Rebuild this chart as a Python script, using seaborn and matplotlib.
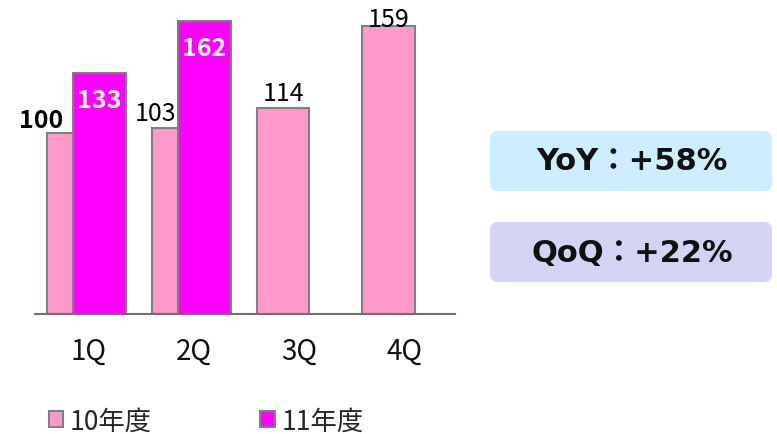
import numpy as np
import pandas as pd
import matplotlib.pyplot as plt
import seaborn as sns
from matplotlib.patches import FancyBboxPatch

# data
quarters = ['1Q', '2Q', '3Q', '4Q']
fy10 = [100, 103, 114, 159]
fy11 = [133, 162]
series_names = ['10年度', '11年度']
yoy_text = 'YoY：+58%'
qoq_text = 'QoQ：+22%'

sns.set_theme(style='white')
plt.rcParams['font.family'] = ['Noto Sans CJK JP', 'DejaVu Sans']

pink = '#FF99CC'
magenta = '#FF00FF'
edge = '#808080'

fig = plt.figure(figsize=(7.77, 4.35), dpi=100)
ax = fig.add_axes([0.045, 0.276, 0.541, 0.724])

pos10 = np.arange(len(fy10), dtype=float)
pos11 = np.arange(len(fy11), dtype=float) + 0.25
df10 = pd.DataFrame({'x': pos10, 'y': fy10})
df11 = pd.DataFrame({'x': pos11, 'y': fy11})

sns.barplot(data=df10, x='x', y='y', native_scale=True, width=0.5, color=pink,
            saturation=1, edgecolor=edge, linewidth=1.5, ax=ax)
sns.barplot(data=df11, x='x', y='y', native_scale=True, width=0.5, color=magenta,
            saturation=1, edgecolor=edge, linewidth=1.5, ax=ax)

ax.set_xlim(-0.362, 3.638)
ax.set_ylim(0, 174)
ax.set_xlabel('')
ax.set_ylabel('')
ax.set_yticks([])
ax.set_xticks(pos10 + 0.15)
ax.set_xticklabels(quarters, fontsize=20, color='#111111')
ax.tick_params(axis='x', length=0, pad=16)
for s in ['left', 'right', 'top']:
    ax.spines[s].set_visible(False)
ax.spines['bottom'].set_color('#707070')
ax.spines['bottom'].set_linewidth(1.5)

# value labels for 10年度
lab_dx = [-0.3, -0.21, 0, 0]
lab_dy = [1, 1, 1, -4]
lab_bold = [True, False, False, False]
for x, v, dx, dy, b in zip(pos10, fy10, lab_dx, lab_dy, lab_bold):
    ax.annotate(str(v), (x + dx, v), xytext=(0, dy), textcoords='offset points',
                ha='center', va='bottom', fontsize=18,
                fontweight='bold' if b else 'normal', color='black')
# value labels for 11年度 (white, inside the bar top)
for x, v in zip(pos11, fy11):
    ax.annotate(str(v), (x, v), xytext=(0, -11), textcoords='offset points',
                ha='center', va='top', fontsize=18, fontweight='bold', color='white')

# summary boxes (pixel coordinates)
boxes = [(yoy_text, 243, '#CCEEFF'), (qoq_text, 152, '#D3D3F3')]
for txt, y0, col in boxes:
    fig.patches.append(FancyBboxPatch((490, y0), 282, 60, boxstyle='round,pad=0,rounding_size=8',
                                      transform=None, facecolor=col, edgecolor='none'))
    fig.text(632 / 777, (y0 + 30) / 435, txt, ha='center', va='center', fontsize=22,
             fontweight='bold', family=['DejaVu Sans', 'Noto Sans CJK JP'], color='#111111')

handles = [ax.containers[0].patches[0], ax.containers[1].patches[0]]
leg = fig.legend(handles, series_names, loc='center left', bbox_to_anchor=(0.049, 0.03),
                 ncol=2, frameon=False, fontsize=19, handlelength=0.55, handleheight=0.55,
                 handletextpad=0.25, columnspacing=4.1, borderaxespad=0)

fig.savefig('out.png', dpi=100)
